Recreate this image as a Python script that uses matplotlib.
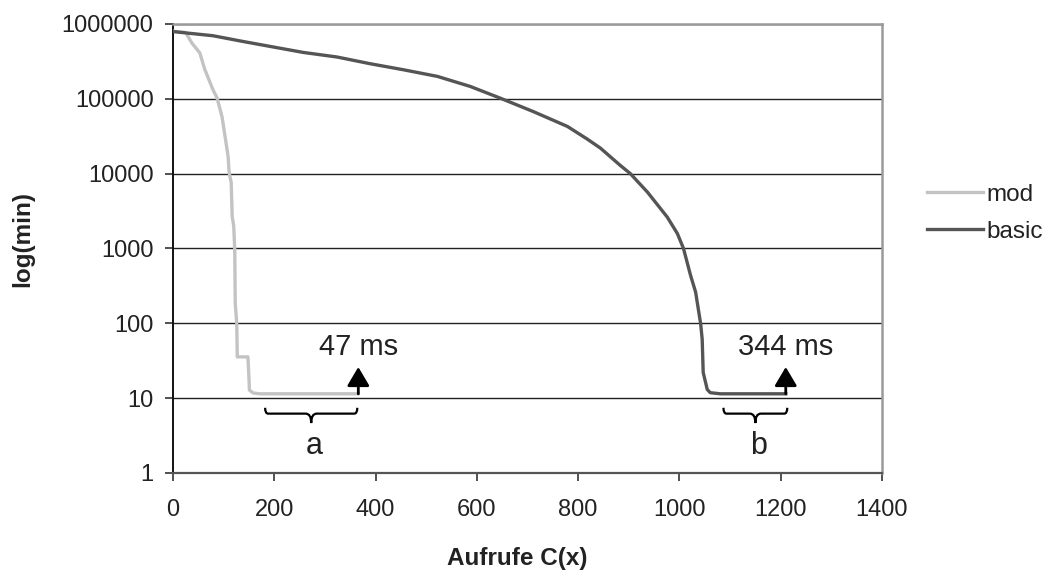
import matplotlib
matplotlib.use('Agg')

import matplotlib.pyplot as plt
from matplotlib.path import Path
from matplotlib.patches import PathPatch
from matplotlib.transforms import blended_transform_factory

# Minimum runtime per number of calls, both variants
mod_x = [0, 25, 37, 53, 63, 79, 87, 97, 103, 109, 111, 115, 117, 120, 122,
         123, 126, 127, 148, 150, 151, 158, 172, 366]
mod_y = [800000, 770000, 560000, 410000, 245000, 132000, 103000, 57000, 31000,
         16700, 10200, 7600, 2650, 2000, 960, 187, 98, 35.5, 35.5, 19, 12.8,
         11.7, 11.4, 11.4]

basic_x = [0, 79, 138, 192, 257, 324, 389, 455, 522, 587, 646, 711, 779, 818,
           844, 883, 903, 937, 976, 996, 1008, 1022, 1032, 1042, 1045, 1047,
           1055, 1061, 1081, 1210]
basic_y = [790000, 695000, 583000, 500000, 416000, 361000, 294000, 244000,
           199000, 146000, 102000, 67600, 42600, 28900, 21900, 12900, 10000,
           5640, 2620, 1580, 1000, 437, 261, 98, 61, 22, 13, 11.8, 11.4, 11.4]

x_ticks = [0, 200, 400, 600, 800, 1000, 1200, 1400]
y_ticks = [1, 10, 100, 1000, 10000, 100000, 1000000]

# end-of-run marks: (x, arrow top, label)
end_marks = [(366, 26, '47 ms'), (1210, 26, '344 ms')]
# flat tail spans: (x start, x end, letter)
tail_spans = [(182, 364, 'a'), (1087, 1213, 'b')]

MOD_COLOR = '#c3c3c3'
BASIC_COLOR = '#555555'
TEXT_COLOR = '#222222'

plt.rcParams['font.family'] = ['Liberation Sans', 'DejaVu Sans']


def draw_brace(ax, x0, x1, top, mid, tip, d_end=6, d_mid=11):
    '''
    Curly brace opening downwards; x in data units, y in axes fraction.
    '''
    xc = (x0 + x1) / 2
    verts = [(x0, top), (x0, mid), (x0 + d_end, mid),
             (xc - d_mid, mid),
             (xc, mid), (xc, tip),
             (xc, mid), (xc + d_mid, mid),
             (x1 - d_end, mid),
             (x1, mid), (x1, top)]
    codes = [Path.MOVETO, Path.CURVE3, Path.CURVE3,
             Path.LINETO,
             Path.CURVE3, Path.CURVE3,
             Path.CURVE3, Path.CURVE3,
             Path.LINETO,
             Path.CURVE3, Path.CURVE3]
    trans = blended_transform_factory(ax.transData, ax.transAxes)
    patch = PathPatch(Path(verts, codes), facecolor='none', edgecolor='black',
                      lw=1.6, transform=trans, clip_on=False)
    ax.add_patch(patch)
    return xc


fig = plt.figure(figsize=(10.45, 5.76), dpi=100, facecolor='white')
ax = fig.add_axes([0.1655, 0.179, 0.6785, 0.7795])

ax.plot(mod_x, mod_y, color=MOD_COLOR, lw=2.4, label='mod', zorder=3)
ax.plot(basic_x, basic_y, color=BASIC_COLOR, lw=2.4, label='basic', zorder=3)

ax.set_yscale('log')
ax.set_xlim(0, 1400)
ax.set_ylim(1, 1000000)
ax.set_xticks(x_ticks, labels=[str(t) for t in x_ticks])
ax.set_yticks(y_ticks, labels=[str(t) for t in y_ticks])
ax.minorticks_off()

ax.grid(axis='y', color='#222222', lw=1.0)
ax.set_axisbelow(True)

ax.spines['left'].set_color('#111111')
ax.spines['left'].set_linewidth(1.4)
ax.spines['bottom'].set_color('#555555')
ax.spines['bottom'].set_linewidth(1.6)
for side in ('top', 'right'):
    ax.spines[side].set_color('#9a9a9a')
    ax.spines[side].set_linewidth(1.8)

ax.tick_params(axis='both', direction='out', length=6, width=1.2,
               color='#333333', labelsize=17, labelcolor=TEXT_COLOR)
ax.tick_params(axis='y', pad=8)
ax.tick_params(axis='x', pad=13)

ax.set_xlabel('Aufrufe C(x)', fontsize=17.5, fontweight='bold', color=TEXT_COLOR)
ax.set_ylabel('log(min)', fontsize=17.5, fontweight='bold', color=TEXT_COLOR)
ax.xaxis.set_label_coords(0.485, -0.165)
ax.yaxis.set_label_coords(-0.196, 0.52)

for x, y_top, label in end_marks:
    ax.annotate('', xy=(x, y_top), xytext=(x, 11.4),
                arrowprops=dict(arrowstyle='-|>,head_length=1.15,head_width=0.68',
                                mutation_scale=10, color='black', lw=2,
                                shrinkA=0, shrinkB=0),
                zorder=4)
    ax.text(x, 48, label, fontsize=21, color=TEXT_COLOR,
            ha='center', va='center')

trans = blended_transform_factory(ax.transData, ax.transAxes)
for x0, x1, letter in tail_spans:
    xc = draw_brace(ax, x0, x1, top=0.145, mid=0.132, tip=0.111)
    ax.text(xc + 6, 0.060, letter, fontsize=22, color=TEXT_COLOR,
            ha='center', va='center', transform=trans)

fig.legend(loc='center left', bbox_to_anchor=(0.878, 0.63), frameon=False,
           fontsize=17.5, handlelength=2.3, handletextpad=0.12,
           labelspacing=0.62, borderaxespad=0, labelcolor=TEXT_COLOR)

fig.savefig('out.png', dpi=100)
